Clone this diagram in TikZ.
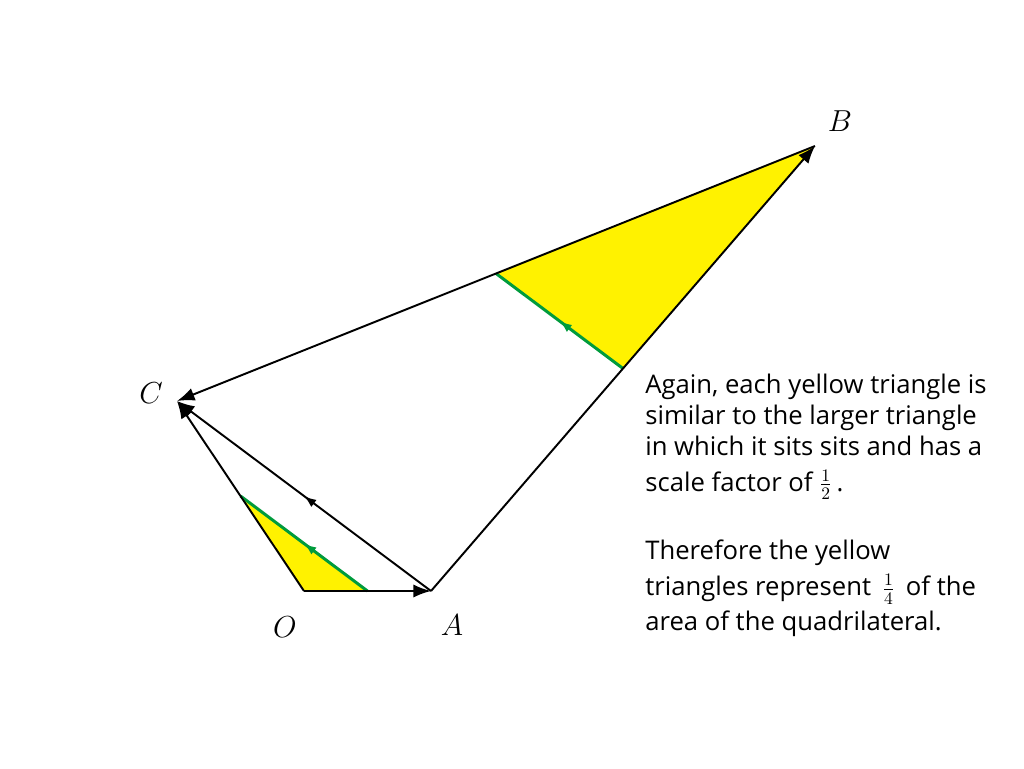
\documentclass[tikz,border=0pt]{standalone}
\usepackage{fontspec}
\setmainfont{Open Sans}
\usetikzlibrary{arrows.meta,calc,decorations.markings,positioning}
\definecolor{triyellow}{RGB}{255,242,0}
\definecolor{midgreen}{RGB}{0,155,60}

\tikzset{
  vec/.style={line width=1.1pt,-{Latex[length=10pt,width=7.5pt]}},
  midarrow/.style={postaction={decorate},
    decoration={markings,mark=at position 0.5 with {\arrow{Latex[length=7pt,width=5pt]}}}},
  midline/.style={midgreen,line width=1.7pt,midarrow},
  ptlabel/.style={font=\fontsize{18}{20}\selectfont},
  note/.style={anchor=north west,align=left,inner sep=0pt,
    font=\fontsize{14.6}{17.6}\selectfont}
}

\begin{document}
\begin{tikzpicture}[x=0.02cm,y=-0.02cm]
\useasboundingbox (0,0) rectangle (1024,768);
% corners of the quadrilateral
\coordinate (O) at (304,591);
\coordinate (A) at (431,591);
\coordinate (B) at (815,146);
\coordinate (C) at (177,401);
% midpoints
\coordinate (OCm) at ($(O)!.5!(C)$);
\coordinate (OAm) at ($(O)!.5!(A)$);
\coordinate (CBm) at ($(C)!.5!(B)$);
\coordinate (ABm) at ($(A)!.5!(B)$);

\fill[triyellow] (O)--(OAm)--(OCm)--cycle;
\fill[triyellow] (B)--(CBm)--(ABm)--cycle;
\draw[midline] (OAm)--(OCm);
\draw[midline] (ABm)--(CBm);

\draw[vec] (O)--(A);
\draw[vec] (A)--(B);
\draw[vec] (B)--(C);
\draw[vec] (O)--(C);
\draw[vec,midarrow] (A)--(C);

\node[ptlabel] (lB) at (840,121) {$B$};
\node[ptlabel] (lC) at (151,393) {$C$};
\node[ptlabel] (lO) at (285,627) {$O$};
\node[ptlabel] (lA) at (452,625) {$A$};

\node[note] (para1) at (645,374) {Again, each yellow triangle is\\
  similar to the larger triangle\\
  in which it sits sits and has a\\[2.5pt]
  scale factor of $\frac{1}{2}$\,.};
\node[note] (para2) at (645,540) {Therefore the yellow\\[2.5pt]
  triangles represent \,$\frac{1}{4}$\, of the\\[2.5pt]
  area of the quadrilateral.};
\end{tikzpicture}
\end{document}
